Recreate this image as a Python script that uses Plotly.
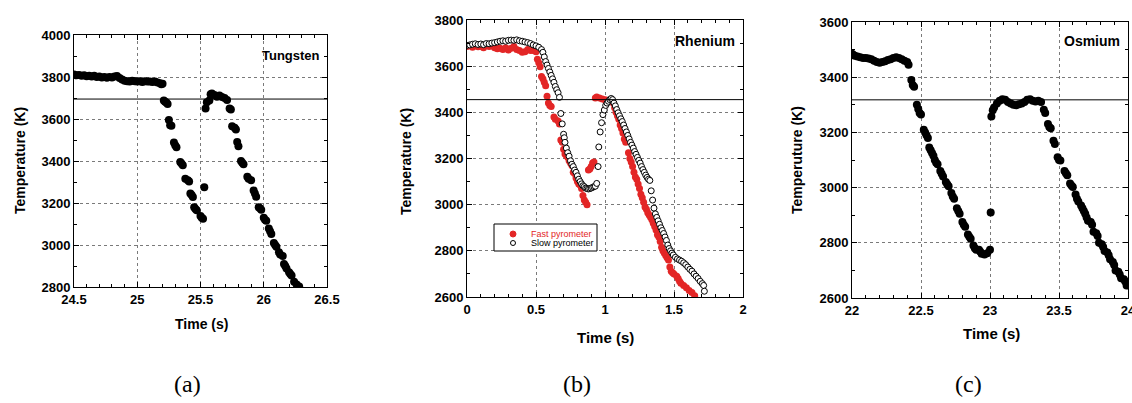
import plotly.graph_objects as go

# ---------------- data ----------------
tungsten_time = [24.50,24.52,24.54,24.56,24.58,24.60,24.62,24.64,24.66,24.68,24.70,24.72,24.74,24.76,24.78,24.80,24.82,24.84,24.86,24.88,24.90,24.92,24.94,24.96,24.98,25.00,25.02,25.04,25.06,25.08,25.10,25.12,25.14,25.16,25.18,25.19,25.20,
                 25.21,25.22,25.23,25.24, 25.25,25.26,25.27, 25.29,25.30,25.31, 25.34,25.35,25.36, 25.38,25.40,25.41, 25.42,25.43,25.44, 25.45,25.46,25.47, 25.50,25.51,25.52,
                 25.53, 25.54, 25.55,25.57, 25.58,25.59,25.61, 25.63,25.65,25.67,25.69, 25.71,25.73,25.74, 25.75,25.77,25.78, 25.79,25.80, 25.82,25.83,25.84,
                 25.87,25.88,25.90, 25.92,25.93,25.94, 25.96,25.97,25.98, 26.00,26.01,26.02, 26.04,26.05,26.06, 26.08,26.09,26.10, 26.12,26.13,26.15,
                 26.16,26.17,26.18, 26.20,26.21,26.22, 26.24,26.26,26.28]
tungsten_temp = [3812,3808,3810,3806,3808,3804,3806,3802,3806,3800,3802,3798,3800,3797,3800,3798,3802,3805,3795,3788,3782,3780,3778,3782,3780,3778,3780,3776,3780,3778,3779,3776,3778,3774,3770,3765,3768,
                 3688,3682,3678,3672, 3595,3570,3568, 3488,3475,3465, 3395,3388,3380, 3315,3308,3302, 3245,3238,3228, 3180,3172,3165, 3138,3130,3125,
                 3275, 3650, 3680,3688, 3718,3722,3714, 3706,3712,3705,3700, 3690,3650,3645, 3565,3558,3550, 3490,3470, 3400,3392,3385,
                 3325,3315,3308, 3260,3245,3230, 3180,3175,3168, 3130,3120,3115, 3078,3065,3052, 3010,3000,2992, 2965,2955,2948,
                 2910,2900,2888, 2870,2862,2855, 2825,2812,2802]

rhenium_fast_time = [0.00,0.02,0.04,0.06,0.08,0.10,0.12,0.14,0.16,0.18,0.20,0.22,0.24,0.26,0.28,0.30,0.32,0.34,0.36,0.38,0.40,0.42,0.44,0.46,0.48,0.50,
                     0.51,0.52,0.53,0.54,0.55,0.56,0.57,0.58,0.59,0.60,0.61,0.63,0.64,0.66,0.67,0.68,0.69,0.70,0.71,0.72,0.73,0.74,0.75,0.76,0.77,0.78,0.79,0.80,
                     0.81,0.82,0.83,0.84,0.85,0.86,0.87,0.88,0.89,0.90,0.91,0.92,0.93,0.94,0.96,0.98,1.00,1.02,1.04,1.06,1.07,1.08,1.09,1.10,1.11,1.12,1.13,1.14,1.15,
                     1.17,1.18,1.19,1.20,1.21,1.22,1.23,1.24,1.25,1.26,1.27,1.28,1.29,1.30,1.31,1.32,1.33,1.34,1.35,1.36,1.37,1.38,1.39,1.40,1.41,1.42,1.43,1.44,1.45,
                     1.46,1.47,1.48,1.49,1.50,1.52,1.53,1.54,1.55,1.57,1.59,1.61,1.63,1.65]
rhenium_fast_temp = [3685,3690,3682,3688,3684,3686,3680,3690,3685,3688,3680,3675,3678,3672,3680,3670,3678,3685,3672,3668,3660,3662,3672,3668,3668,3662,
                     3630,3615,3598,3555,3545,3530,3515,3470,3440,3430,3425,3380,3370,3362,3350,3280,3270,3240,3220,3212,3205,3190,3180,3170,3140,3135,3115,3100,
                     3090,3085,3070,3040,3020,3010,3000,3150,3155,3165,3180,3185,3462,3466,3462,3458,3455,3452,3448,3440,3420,3400,3385,3370,3345,3330,3310,3285,3270,
                     3225,3200,3185,3165,3140,3120,3110,3090,3070,3045,3030,3010,2990,2980,2965,2955,2945,2935,2920,2905,2890,2870,2860,2840,2815,2800,2790,2780,2770,
                     2760,2730,2712,2705,2700,2690,2680,2668,2660,2650,2640,2628,2620,2605]

rhenium_slow_time = [0.00,0.02,0.04,0.06,0.08,0.10,0.12,0.14,0.16,0.18,0.20,0.22,0.24,0.26,0.28,0.30,0.32,0.34,0.36,0.38,0.40,0.42,0.44,0.46,0.48,0.50,0.52,0.54,
                     0.55,0.56,0.57,0.58,0.59,0.60,0.61,0.62,0.63,0.64,0.65,0.66,0.67,0.68,0.69,0.70,0.705,0.71,0.72,0.73,0.74,0.75,0.76,0.77,0.78,0.79,0.80,
                     0.81,0.82,0.83,0.84,0.85,0.86,0.87,0.88,0.89,0.90,0.91,0.92,0.93,0.94,0.95,0.955,0.965,0.975,0.985,0.995,1.005,1.015,1.025,1.035,1.045,1.055,
                     1.065,1.075,1.085,1.095,1.105,1.115,1.125,1.135,1.145,1.155,1.165,1.175,1.185,1.195,1.205,1.215,1.225,1.235,1.245,1.255,1.265,1.275,1.285,
                     1.295,1.305,1.315,1.325,1.335,1.345,1.355,1.365,1.375,1.385,1.395,1.405,1.415,1.425,1.435,1.445,1.455,1.465,1.475,1.485,1.495,
                     1.51,1.525,1.54,1.555,1.57,1.585,1.60,1.615,1.63,1.645,1.66,1.675,1.69,1.705,1.715,1.72]
rhenium_slow_temp = [3690,3692,3695,3697,3694,3696,3693,3698,3697,3700,3702,3705,3708,3710,3708,3712,3713,3712,3714,3710,3708,3705,3702,3698,3692,3688,3682,3672,
                     3660,3640,3620,3605,3590,3575,3560,3545,3530,3512,3498,3485,3465,3395,3350,3305,3290,3270,3245,3225,3210,3190,3175,3165,3150,3140,3125,
                     3110,3100,3090,3082,3078,3072,3070,3068,3070,3072,3075,3078,3080,3092,3165,3250,3315,3355,3390,3410,3430,3440,3448,3455,3460,3455,
                     3440,3428,3412,3398,3385,3372,3360,3345,3330,3315,3300,3285,3270,3258,3245,3230,3218,3205,3192,3180,3165,3152,3140,
                     3128,3118,3110,3105,3060,3020,2985,2960,2945,2930,2915,2900,2888,2875,2860,2845,2825,2810,2800,2790,2782,
                     2772,2765,2760,2755,2748,2740,2730,2720,2712,2700,2690,2680,2668,2658,2650,2625]

osmium_time = [22.00,22.01,22.02,22.04,22.06,22.08,22.10,22.12,22.14,22.16,22.18,22.20,22.22,22.24,22.26,22.28,22.30,22.32,22.34,22.36,22.38,22.40,22.41,
               22.43,22.44,22.45, 22.47,22.48,22.49,22.50, 22.52,22.53,22.54,22.55, 22.56,22.57,22.58,22.59, 22.60,22.61,22.62, 22.64,22.65,22.66,
               22.68,22.69,22.70, 22.72,22.73,22.74, 22.76,22.77,22.78, 22.80,22.81,22.82, 22.84,22.85,22.86, 22.88,22.89,22.90,
               22.92,22.93,22.94,22.96,22.98,23.00, 23.005,
               23.01,23.02,23.03,23.05,23.07,23.09,23.11,23.13,23.15,23.17,23.19,23.21,23.23,23.25,23.27,23.29,23.31,23.33,23.35,23.37,
               23.39,23.40, 23.42,23.43,23.44, 23.46,23.47, 23.49,23.50,23.51, 23.54,23.55,23.56, 23.58,23.59,23.60, 23.62,23.63,23.64,
               23.66,23.67,23.68, 23.69,23.70,23.71, 23.73,23.74,23.75, 23.77,23.78,23.79, 23.81,23.82,23.83, 23.85,23.86,23.87,
               23.89,23.90,23.91, 23.93,23.94,23.95, 23.97,23.98,23.99]
osmium_temp = [3485,3480,3478,3475,3472,3470,3470,3468,3465,3460,3455,3452,3455,3458,3462,3465,3470,3472,3470,3465,3460,3455,3445,
               3390,3372,3365, 3300,3285,3270,3265, 3210,3200,3190,3180, 3145,3135,3125,3115, 3100,3090,3085, 3060,3050,3040,
               3020,3012,3005, 2980,2968,2960, 2925,2915,2905, 2875,2865,2858, 2830,2822,2815, 2790,2780,2775,
               2775,2768,2760,2758,2762,2775, 2910,
               3258,3280,3290,3305,3315,3320,3318,3310,3305,3300,3298,3302,3305,3310,3318,3320,3315,3312,3315,3310,
               3282,3270, 3230,3220,3215, 3170,3158, 3110,3100,3098, 3060,3052,3045, 3015,3008,3002, 2975,2960,2950,
               2935,2925,2915, 2905,2892,2880, 2875,2865,2840, 2835,2825,2800, 2795,2785,2770, 2765,2755,2740,
               2730,2720,2700, 2695,2685,2672, 2668,2660,2645]

melting_points = [3695, 3455, 3318]
material_names = ["Tungsten", "Rhenium", "Osmium"]
y_titles = ["Temperature (K)", "Temperature (K)", "Temperuture (K)"]
captions = ["(a)", "(b)", "(c)"]
legend_labels = ["Fast pyrometer", "Slow pyrometer"]

RED = "#e32626"

# ---------------- figure ----------------
fig = go.Figure()
fig.add_trace(go.Scatter(x=tungsten_time, y=tungsten_temp, mode="markers", xaxis="x", yaxis="y",
                         marker=dict(color="black", size=8), showlegend=False))
fig.add_trace(go.Scatter(x=rhenium_fast_time, y=rhenium_fast_temp, mode="markers", xaxis="x2", yaxis="y2",
                         name=legend_labels[0], showlegend=False,
                         marker=dict(color=RED, size=7)))
fig.add_trace(go.Scatter(x=rhenium_slow_time, y=rhenium_slow_temp, mode="markers", xaxis="x2", yaxis="y2",
                         name=legend_labels[1], showlegend=False,
                         marker=dict(color="white", size=6, symbol="circle", line=dict(color="black", width=1))))
fig.add_trace(go.Scatter(x=osmium_time, y=osmium_temp, mode="markers", xaxis="x3", yaxis="y3",
                         marker=dict(color="black", size=8), showlegend=False))

FONT = "Liberation Sans, Arial, sans-serif"
tickfont = dict(family=FONT, size=13, color="black", weight="bold")

def ax(domain, anchor, rng, dtick, minor_dtick):
    return dict(domain=domain, anchor=anchor, range=rng, dtick=dtick, tick0=rng[0],
                automargin=False, ticklabeloverflow="allow",
                showline=True, linecolor="black", linewidth=1, mirror="allticks",
                ticks="inside", ticklen=5, tickcolor="black", tickwidth=1,
                showgrid=True, gridcolor="#7a7a7a", griddash="dot", gridwidth=1,
                zeroline=False, tickfont=tickfont, fixedrange=True,
                minor=dict(ticks="inside", ticklen=3, tickcolor="black", dtick=minor_dtick, showgrid=False))

W, H = 1132, 403
def px_x(v):
    return v / W
def px_y(v):
    return 1 - v / H

fig.update_layout(
    width=W, height=H, margin=dict(l=0, r=0, t=0, b=0, autoexpand=False),
    paper_bgcolor="white", plot_bgcolor="white",
    xaxis=ax([px_x(74), px_x(327)], "y", [24.5, 26.5], 0.5, 0.1),
    yaxis=ax([px_y(287), px_y(35)], "x", [2800, 4000], 200, 100),
    xaxis2=ax([px_x(467), px_x(743)], "y2", [0, 2], 0.5, 0.1),
    yaxis2=ax([px_y(297), px_y(20)], "x2", [2600, 3800], 200, 100),
    xaxis3=ax([px_x(852), px_x(1128)], "y3", [22, 24], 0.5, 0.1),
    yaxis3=ax([px_y(298), px_y(22)], "x3", [2600, 3600], 200, 100),
    showlegend=False,
)

# melting plateau reference lines
for i, mp in enumerate(melting_points):
    sfx = "" if i == 0 else str(i + 1)
    fig.add_shape(type="line", xref=f"x{sfx} domain", yref=f"y{sfx}", x0=0, x1=1, y0=mp, y1=mp,
                  line=dict(color="black", width=1))

# legend box for panel (b)
fig.add_shape(type="rect", xref="paper", yref="paper",
              x0=px_x(494), x1=px_x(597), y0=px_y(251), y1=px_y(224),
              line=dict(color="black", width=1), fillcolor="white", layer="above")
fig.add_shape(type="circle", xref="paper", yref="paper",
              x0=px_x(510), x1=px_x(516), y0=px_y(237), y1=px_y(231),
              line=dict(color=RED, width=1), fillcolor=RED, layer="above")
fig.add_shape(type="circle", xref="paper", yref="paper",
              x0=px_x(510.5), x1=px_x(515.5), y0=px_y(245.5), y1=px_y(240.5),
              line=dict(color="black", width=1), fillcolor="white", layer="above")
for yp, txt, col in zip([234, 243], legend_labels, [RED, "black"]):
    fig.add_annotation(x=px_x(529), y=px_y(yp), xref="paper", yref="paper", text=txt,
                       showarrow=False, xanchor="left", yanchor="middle",
                       font=dict(family=FONT, size=9, color=col))

title_font = dict(family=FONT, size=14, color="black", weight="bold")
# y titles
for xp, yp, txt in zip([20, 406, 797], [161, 162, 160], y_titles):
    fig.add_annotation(x=px_x(xp), y=px_y(yp), xref="paper", yref="paper", text=txt, textangle=-90,
                       showarrow=False, font=title_font, xanchor="center", yanchor="middle")
# x titles
for xp, yp, sz in zip([201, 605, 991], [324, 337, 333], [14, 15, 15]):
    fig.add_annotation(x=px_x(xp), y=px_y(yp), xref="paper", yref="paper", text="Time (s)",
                       showarrow=False, xanchor="center", yanchor="middle",
                       font=dict(family=FONT, size=sz, color="black", weight="bold"))
# material labels
for xp, yp, txt, sz in zip([322, 737, 1122], [56, 41, 41], material_names, [13, 14, 14]):
    fig.add_annotation(x=px_x(xp), y=px_y(yp), xref="paper", yref="paper", text=txt,
                       showarrow=False, xanchor="right", yanchor="middle",
                       font=dict(family=FONT, size=sz, color="black", weight="bold"))
# captions
for xp, txt in zip([188, 577, 968], captions):
    fig.add_annotation(x=px_x(xp), y=px_y(384), xref="paper", yref="paper", text=txt,
                       showarrow=False, xanchor="center", yanchor="middle",
                       font=dict(family="Liberation Serif, DejaVu Serif, serif", size=24, color="black"))

fig.write_html("out.html", config={"displayModeBar": False},
               post_script="document.body.style.margin='0';document.body.style.overflow='hidden';")
